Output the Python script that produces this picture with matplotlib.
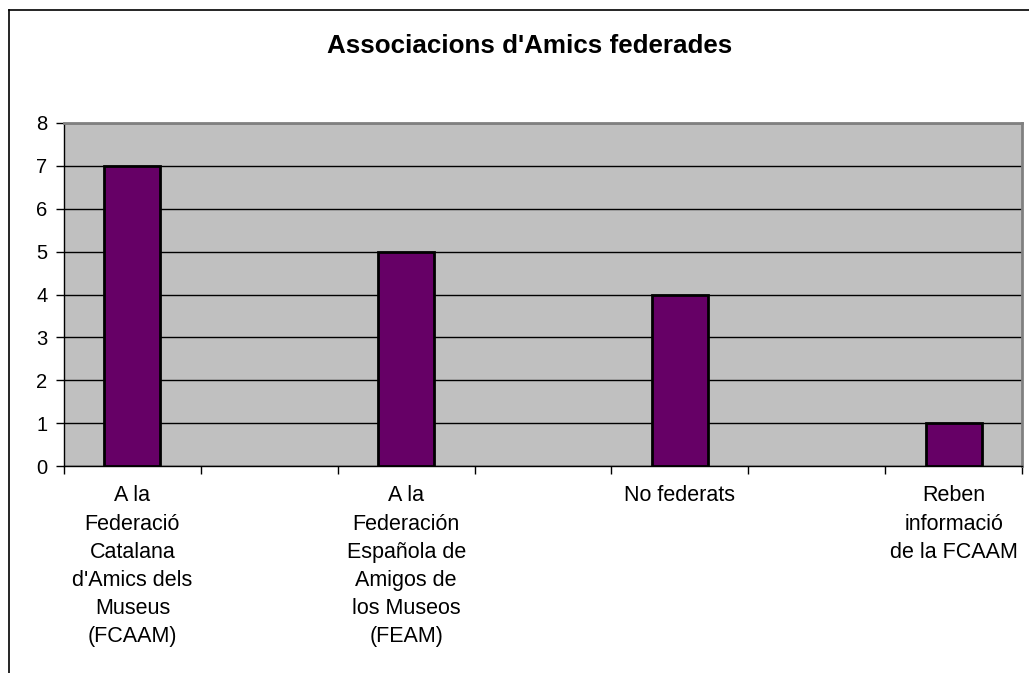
import matplotlib.pyplot as plt
from matplotlib.lines import Line2D

# Excel sheet had 7 category slots; the bars sit on every other one
categories = [
    "A la\nFederació\nCatalana\nd'Amics dels\nMuseus\n(FCAAM)",
    "",
    "A la\nFederación\nEspañola de\nAmigos de\nlos Museos\n(FEAM)",
    "",
    "No federats",
    "",
    "Reben\ninformació\nde la FCAAM",
]
values = [7, None, 5, None, 4, None, 1]
yticks = [0, 1, 2, 3, 4, 5, 6, 7, 8]

plt.rcParams['font.family'] = ['Liberation Sans', 'DejaVu Sans']

fig = plt.figure(figsize=(10.29, 6.73), dpi=100)
W, H = 1029, 673
ax = fig.add_axes([64 / W, 1 - 466 / H, (1022 - 64) / W, (466 - 123) / H])

ax.set_facecolor('#C0C0C0')
for s in ax.spines.values():
    s.set_color('#808080')
    s.set_linewidth(2)
ax.spines['left'].set_color('black')
ax.spines['left'].set_linewidth(1)
ax.spines['bottom'].set_color('black')
ax.spines['bottom'].set_linewidth(1)

xs = [i for i, v in enumerate(values) if v is not None]
vs = [v for v in values if v is not None]
ax.bar(xs, vs, width=0.41, color='#660066', edgecolor='black', linewidth=2, zorder=3)

n = len(categories)
ax.set_xlim(-0.5, n - 0.5)
ax.set_ylim(0, 8)
ax.set_yticks(yticks)
ax.yaxis.grid(True, color='black', linewidth=1, zorder=1)
ax.set_axisbelow(True)
ax.tick_params(axis='y', labelsize=14.5, length=6, width=1, pad=6)

# tick marks at category boundaries, labels at centers
ax.set_xticks([i - 0.5 for i in range(n + 1)])
ax.set_xticklabels([])
ax.tick_params(axis='x', length=6, width=1)
ax.set_xticks(list(range(n)), minor=True)
ax.set_xticklabels(categories, minor=True, fontsize=15.5, linespacing=1.45)
ax.tick_params(axis='x', which='minor', length=0, pad=14)

fig.text(530 / W, 1 - 46 / H, "Associacions d'Amics federades", ha='center', va='center',
         fontsize=18.7, fontweight='bold')

# chart area border (cropped)
fig.add_artist(Line2D([9 / W, 9 / W], [0, 1 - 10 / H], transform=fig.transFigure, color='black', linewidth=1.2))
fig.add_artist(Line2D([9 / W, 1], [1 - 10 / H, 1 - 10 / H], transform=fig.transFigure, color='black', linewidth=1.2))

fig.savefig('out.png', dpi=100)
